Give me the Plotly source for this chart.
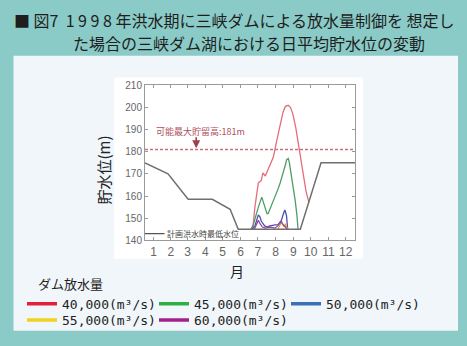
import plotly.graph_objects as go

W, H = 467, 346

# ---- data (day of year, water level m) ----
base_day = [0, 40, 75, 117, 148, 162, 270, 306, 365]
base_lvl = [175, 170, 158.5, 158.5, 154, 145, 145, 175, 175]

red_day = [184, 188, 191, 195, 197, 202, 205, 209, 214, 223, 229, 235, 240, 244, 249, 253, 257, 262, 266, 270, 275, 280, 285]
red_lvl = [145, 147, 155, 162, 166, 167, 170.5, 169, 172, 177.5, 185, 192, 198, 200.5, 201, 200, 197, 191, 184, 177, 170, 162, 157]

green_day = [186, 191, 197, 203, 207, 212, 214, 219, 223, 228, 231, 235, 240, 244, 246, 249, 251, 254, 257, 261, 264, 266]
green_lvl = [145, 150, 155, 159.5, 156, 152, 152, 155, 157.5, 161, 163, 166, 170, 174, 176.3, 177, 175, 170, 166, 158, 151.5, 145]

blue_day = [186, 191, 197, 200, 202, 208, 212, 217, 226, 231, 234, 237, 240, 243, 244, 246, 248]
blue_lvl = [145, 146.5, 151.5, 150.5, 148.7, 146.5, 146, 146.5, 147, 147, 148, 149, 151.5, 153.7, 153, 151, 145]

yellow_day = [231, 234, 237, 240, 242, 244, 246, 248]
yellow_lvl = [145, 146.5, 148, 147, 146, 147.5, 146, 145]

purple_day = [190, 193, 197, 200, 204, 209, 217, 226, 231, 237, 240, 244, 247]
purple_lvl = [145, 147, 149, 147.5, 146, 145.5, 146, 145.5, 146.5, 148.5, 147, 146, 145]

max_day = [0, 365]
max_lvl = [181, 181]
low_day = [0, 34]
low_lvl = [143, 143]

month_pos = [15, 45, 74, 105, 135, 166, 196, 227, 258, 288, 319, 349]
month_lbl = ["1", "2", "3", "4", "5", "6", "7", "8", "9", "10", "11", "12"]
y_ticks = [140, 150, 160, 170, 180, 190, 200, 210]

series_names = ["40,000(m³/s)", "45,000(m³/s)", "50,000(m³/s)", "55,000(m³/s)", "60,000(m³/s)"]
series_data = [(red_day, red_lvl), (green_day, green_lvl), (blue_day, blue_lvl),
               (yellow_day, yellow_lvl), (purple_day, purple_lvl)]
line_cols = ["#E46C7C", "#4E9E64", "#4B52AE", "#E2A83A", "#9A48A2"]
legend_cols = ["#E3203A", "#2FB045", "#3A70B8", "#F2D21E", "#A4208C"]
legend_rows = ["legend", "legend", "legend", "legend2", "legend2"]

# ---- figure ----
fig = go.Figure()

fig.add_trace(go.Scatter(x=max_day, y=max_lvl, mode="lines",
                         line=dict(color="#C8707A", width=1.6, dash="3px,2px"),
                         showlegend=False, hoverinfo="skip"))
for (dx, dy), c in zip(series_data, line_cols):
    fig.add_trace(go.Scatter(x=dx, y=dy, mode="lines", line=dict(color=c, width=1.3),
                             showlegend=False))
fig.add_trace(go.Scatter(x=base_day, y=base_lvl, mode="lines",
                         line=dict(color="#6F6F6F", width=1.5), showlegend=False))
fig.add_trace(go.Scatter(x=low_day, y=low_lvl, mode="lines",
                         line=dict(color="#555555", width=1.3), showlegend=False))

for name, c, lg in zip(series_names, legend_cols, legend_rows):
    fig.add_trace(go.Scatter(x=[None], y=[None], mode="lines", name=name, legend=lg,
                             line=dict(color=c, width=3.5)))

px = lambda v: v / W
py = lambda v: 1 - v / H

leg_common = dict(orientation="h", xanchor="left", yanchor="top",
                  bgcolor="rgba(0,0,0,0)", entrywidth=87, entrywidthmode="pixels",
                  font=dict(family="DejaVu Sans Mono", size=13, color="#222222"),
                  tracegroupgap=0, itemclick=False, itemdoubleclick=False)

fig.update_layout(
    width=W, height=H,
    margin=dict(l=0, r=0, t=0, b=0),
    paper_bgcolor="#8ACBC7",
    plot_bgcolor="rgba(0,0,0,0)",
    font=dict(family="Noto Sans CJK JP", color="#222222"),
    xaxis=dict(domain=[px(145), px(355)], range=[0, 365], showgrid=False, zeroline=False,
               tickvals=month_pos, ticktext=month_lbl, ticks="inside", ticklen=3,
               tickcolor="#999999", showline=True, linecolor="#9A9A9A", linewidth=1, mirror="ticks",
               tickfont=dict(family="Liberation Sans", size=12, color="#666666")),
    yaxis=dict(domain=[py(243), py(83)], range=[140, 210], showgrid=False, zeroline=False,
               tickvals=y_ticks, ticks="inside", ticklen=3, tickcolor="#999999",
               showline=True, linecolor="#9A9A9A", linewidth=1, mirror="ticks",
               tickfont=dict(family="Liberation Sans", size=10, color="#666666")),
    showlegend=True,
    legend=dict(x=px(22), y=py(293), **leg_common),
    legend2=dict(x=px(22), y=py(310), **leg_common),
    shapes=[
        dict(type="rect", xref="paper", yref="paper", x0=px(13.5), x1=px(458), y0=py(336.5), y1=py(52.5),
             fillcolor="#F0F6FA", line=dict(width=0), layer="below"),
        dict(type="rect", xref="paper", yref="paper", x0=px(114), x1=px(363), y0=py(262), y1=py(75),
             fillcolor="#FFFFFF", line=dict(width=0), layer="below"),
    ],
)

nb = "\u00a0"
annots = [
    dict(text="■" + nb + "図7" + nb * 2 + "1" + nb + "9" + nb + "9" + nb + "8" + nb + "年洪水期に三峡ダムによる放水量制御を" + nb + "想定し",
         x=px(12), y=py(16), xanchor="left", yanchor="middle", font=dict(size=16, color="#1E1E1E")),
    dict(text="た場合の三峡ダム湖における日平均貯水位の変動", x=px(71), y=py(39),
         xanchor="left", yanchor="middle", font=dict(size=16, color="#1E1E1E")),
    dict(text="貯水位(m)", x=px(104), y=py(171), textangle=-90, xanchor="center", yanchor="middle",
         font=dict(size=15, color="#222222")),
    dict(text="月", x=px(237), y=py(275), xanchor="center", yanchor="middle",
         font=dict(size=14, color="#222222")),
    dict(text="ダム放水量", x=px(36), y=py(288), xanchor="left", yanchor="middle",
         font=dict(size=13, color="#222222")),
]
for a in annots:
    a.update(xref="paper", yref="paper", showarrow=False)
    fig.add_annotation(**a)

# in-plot labels
fig.add_annotation(x=96, y=189.3, xref="x", yref="y", text="可能最大貯留高:181m", showarrow=False,
                   font=dict(size=9, color="#B0505E"))
fig.add_annotation(x=89, y=181.6, ax=89, ay=187.2, xref="x", yref="y", axref="x", ayref="y",
                   text="", showarrow=True, arrowhead=2, arrowsize=1, arrowwidth=1.6,
                   arrowcolor="#A0404E")
fig.add_annotation(x=35, y=143, xref="x", yref="y", xanchor="left", text="計画洪水時最低水位",
                   showarrow=False, font=dict(size=8, color="#444444"))

fig.write_html("out.html")
